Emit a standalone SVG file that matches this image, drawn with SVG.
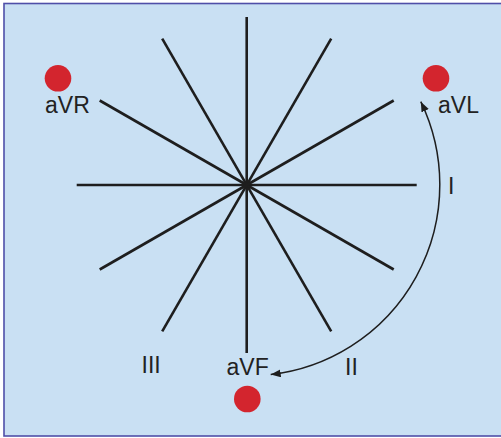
<svg xmlns="http://www.w3.org/2000/svg" width="501" height="438" viewBox="0 0 501 438">
<style>
.ray{stroke:#1e1e1e;stroke-width:2.6;stroke-linecap:butt}
.lbl{font-family:"Liberation Sans",Arial,sans-serif;font-size:23px;fill:#222}
.dot{fill:#d3252e}
.arc{fill:none;stroke:#1e1e1e;stroke-width:1.5}
</style>
<defs>
<marker id="ah" markerUnits="userSpaceOnUse" markerWidth="11" markerHeight="8" refX="10" refY="4" orient="auto-start-reverse">
<path d="M0,0 L10,4 L0,8 z" fill="#1e1e1e"/>
</marker>
</defs>
<rect x="4" y="3.5" width="500" height="432.5" fill="#c9e0f3" stroke="#4f4fa8" stroke-width="1.6"/>
<g id="connectors">
<g id="axes" transform="translate(246.7,185)">
<line class="ray" x1="0" y1="-168" x2="0" y2="168"/>
<line class="ray" x1="-170" y1="0" x2="170" y2="0"/>
<line class="ray" x1="-84.5" y1="-146.4" x2="84.5" y2="146.4"/>
<line class="ray" x1="84.5" y1="-146.4" x2="-84.5" y2="146.4"/>
<line class="ray" x1="-147" y1="-84.5" x2="147" y2="84.5"/>
<line class="ray" x1="147" y1="-84.5" x2="-147" y2="84.5"/>
</g>
<path id="arc" class="arc" d="M 270.7 374.5 A 191 191 0 0 0 420.8 101.7" marker-start="url(#ah)" marker-end="url(#ah)"/>
</g>
<g id="aVR"><circle class="dot" cx="58" cy="78.3" r="13.3"/><text class="lbl" x="45" y="113">aVR</text></g>
<g id="aVL"><circle class="dot" cx="436" cy="78.3" r="13.3"/><text class="lbl" x="438" y="113">aVL</text></g>
<g id="aVF"><circle class="dot" cx="247.3" cy="399" r="13.3"/><text class="lbl" x="226.5" y="375">aVF</text></g>
<g id="leadI"><text class="lbl" x="448" y="194">I</text></g>
<g id="leadII"><text class="lbl" x="345" y="375">II</text></g>
<g id="leadIII"><text class="lbl" x="141.5" y="373">III</text></g>
</svg>
